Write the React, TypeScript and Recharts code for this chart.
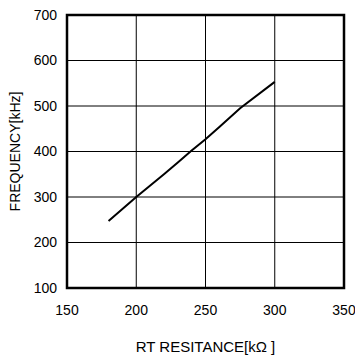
import { LineChart, Line, XAxis, YAxis, CartesianGrid, ReferenceArea } from 'recharts';

document.body.style.margin = '0';

// RT resistance [kΩ] vs oscillator frequency [kHz]
const resistance = [180, 200, 220, 230, 240, 250, 260, 275, 300];
const frequency = [247, 300, 350, 376, 402, 427, 454, 495, 553];

const xTicks = [150, 200, 250, 300, 350];
const yTicks = [100, 200, 300, 400, 500, 600, 700];

const data = resistance.map((r, i) => ({ r, f: frequency[i] }));

const FONT = '"Liberation Sans", Arial, sans-serif';

export default function App() {
  return (
    <div style={{ width: 355, height: 356, background: '#fff', fontFamily: FONT }}>
      <LineChart
        width={355}
        height={356}
        data={data}
        margin={{ top: 15, right: 11, bottom: 0, left: 0 }}
      >
        <CartesianGrid stroke="#000" strokeWidth={1} strokeDasharray="" />
        <XAxis
          dataKey="r"
          type="number"
          domain={[150, 350]}
          ticks={xTicks}
          height={68}
          axisLine={false}
          tickLine={false}
          tickSize={0}
          tickMargin={17}
          tick={{ fill: '#000', fontSize: 14, fontFamily: FONT }}
          label={{
            content: ({ viewBox }: any) => (
              <text
                x={viewBox.x + viewBox.width / 2}
                y={352}
                textAnchor="middle"
                fill="#000"
                fontSize={15}
                fontFamily={FONT}
              >
                RT RESITANCE[kΩ ]
              </text>
            ),
          }}
        />
        <YAxis
          dataKey="f"
          type="number"
          domain={[100, 700]}
          ticks={yTicks}
          width={67}
          axisLine={false}
          tickLine={false}
          tickSize={0}
          tickMargin={10}
          tick={{ fill: '#000', fontSize: 14, fontFamily: FONT }}
          label={{
            content: ({ viewBox }: any) => {
              const cy = viewBox.y + viewBox.height / 2;
              return (
                <text
                  x={20}
                  y={cy}
                  transform={`rotate(-90 20 ${cy})`}
                  textAnchor="middle"
                  fill="#000"
                  fontSize={14}
                  fontFamily={FONT}
                >
                  FREQUENCY[kHz]
                </text>
              );
            },
          }}
        />
        <ReferenceArea
          x1={150}
          x2={350}
          y1={100}
          y2={700}
          fill="none"
          stroke="#000"
          strokeWidth={2.5}
          fillOpacity={0}
        />
        <Line
          type="linear"
          dataKey="f"
          stroke="#000"
          strokeWidth={2}
          dot={false}
          isAnimationActive={false}
        />
      </LineChart>
    </div>
  );
}
